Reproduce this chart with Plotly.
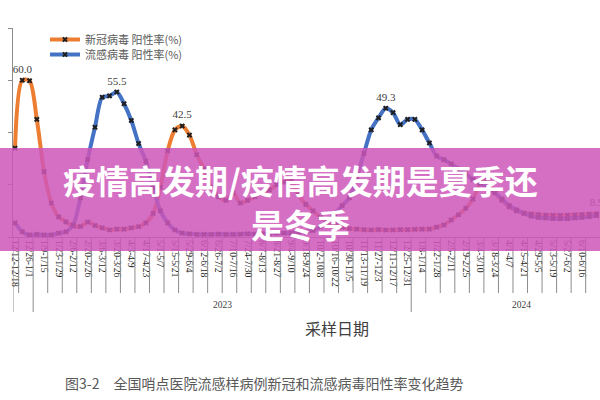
import plotly.graph_objects as go

# ---------------- data ----------------
tick_labels = ["12/12-12/18", "12/26-1/1", "1/9-1/15", "1/23-1/29", "2/6-2/12", "2/20-2/26",
               "3/6-3/12", "3/20-3/26", "4/3-4/9", "4/17-4/23", "5/1-5/7", "5/15-5/21",
               "5/29-6/4", "6/12-6/18", "6/26-7/2", "7/10-7/16", "7/24-7/30", "8/7-8/13",
               "8/21-8/27", "9/4-9/10", "9/18-9/24", "10/2-10/8", "10/16-10/22", "10/30-11/5",
               "11/13-11/19", "11/27-12/3", "12/11-12/17", "12/25-12/31", "1/8-1/14", "1/22-1/28",
               "2/5-2/11", "2/19-2/25", "3/4-3/10", "3/18-3/24", "4/1-4/7", "4/15-4/21",
               "4/29-5/5", "5/13-5/19", "5/27-6/2", "6/10-6/16", "6/24-6/30"]

covid = [34, 60.0, 59.8, 45, 25, 13, 7.7, 5.8, 4.2, 4.0,
         5.7, 4.4, 3.5, 2.7, 3.0, 3.0, 3.5, 4.0, 5.4, 9.0,
         19, 33, 41, 42.5, 39, 31.5, 26, 19, 15.4, 14,
         17, 13, 14, 15.4, 17, 18, 20, 21, 21.5, 16,
         12.5, 10, 7.5, 5.8, 4.5, 3.8, 3.2, 3.0, 2.8, 2.7,
         2.8, 2.7, 2.7, 2.8, 2.8, 2.9, 3.0, 3.0, 3.8, 4.6,
         6.5, 8.5, 11, 14.5, 20.5, 21.8, 17, 14, 11.5, 10,
         9.2, 8.8, 8.6, 8.4, 8.3, 8.3, 8.4, 8.5, 8.6, 8.8,
         8.9]

flu = [5.4, 2.0, 0.8, 1.0, 0.8, 0.8, 1.5, 2.0, 4.6, 15,
       29.6, 42, 53.5, 54, 55.5, 51, 44.6, 35.8, 29, 19,
       10, 5.4, 2.7, 1.5, 1.2, 1.0, 1.0, 1.0, 1.1, 1.0,
       1.0, 1.1, 1.2, 1.1, 1.2, 1.3, 1.5, 1.5, 1.6, 1.8,
       2.0, 2.5, 4.0, 6.0, 9.0, 12, 15, 23, 32, 41,
       45.6, 49.3, 47.6, 43, 45, 45, 41, 36, 31, 29.6,
       28, 26, 24, 22, 20.5, 19, 17, 14.5, 12, 10.4,
       9.0, 8.0, 7.5, 7.3, 7.0, 7.0, 7.0, 7.3, 7.5, 7.8,
       8.2]

covid_label_idx = [1, 23, 80]
flu_label_idx = [14, 51]

years = ["2023", "2024"]
year_bounds = [2.5, 54.5, 84.9]

series_names = ["新冠病毒 阳性率(%)", "流感病毒 阳性率(%)"]
x_title = "采样日期"
caption = "图3-2　全国哨点医院流感样病例新冠和流感病毒阳性率变化趋势"
banner_lines = ["疫情高发期/疫情高发期是夏季还", "是冬季"]

# ---------------- figure ----------------
ORANGE = "#ED7D31"
BLUE = "#4472C4"
AXIS = "#8c8c8c"
TEXT = "#404040"
SERIF = "Liberation Serif, Times New Roman, serif"
CJK = "Noto Sans CJK SC, sans-serif"

x = list(range(len(covid)))
fig = go.Figure()

legend_ids = ["legend", "legend2"]
for name, vals, color, lg in [(series_names[0], covid, ORANGE, legend_ids[0]),
                              (series_names[1], flu, BLUE, legend_ids[1])]:
    fig.add_trace(go.Scatter(
        x=x, y=vals, mode="lines+markers", name=name, legend=lg,
        line=dict(color=color, width=4, shape="spline", smoothing=0.8),
        marker=dict(symbol="x", size=5, color="#1f1f1f"),
        hoverinfo="skip"))

for vals, idx in [(covid, covid_label_idx), (flu, flu_label_idx)]:
    fig.add_trace(go.Scatter(
        x=idx, y=[vals[i] for i in idx], text=[f"{vals[i]:.1f}" for i in idx],
        mode="markers+text", textposition="top center",
        marker=dict(size=6, opacity=0),
        textfont=dict(family=SERIF, size=11, color=TEXT),
        showlegend=False, hoverinfo="skip"))

x0, x1 = -0.275, 80.47
tickvals = list(range(0, len(covid), 2))[:len(tick_labels)]

plot_h = 209.0
plot_w = 587.0
def py(pix_below_axis):
    return -pix_below_axis / plot_h

def px(pix):
    return (pix - 13) / plot_w

shapes = []
for k in range(len(tick_labels)):
    s = tickvals[k] + 0.5
    if s in year_bounds or s > x1:
        continue
    shapes.append(dict(type="line", xref="x", yref="paper", x0=s, x1=s,
                       y0=0, y1=py(56), line=dict(color=AXIS, width=1)))
for s in [x0] + year_bounds[:-1]:
    shapes.append(dict(type="line", xref="x", yref="paper", x0=s, x1=s,
                       y0=0, y1=py(75), line=dict(color=AXIS, width=1)))

shapes.append(dict(type="rect", xref="paper", yref="paper", layer="above",
                   x0=px(0), x1=1.0, y0=py(14), y1=(237 - 148) / plot_h,
                   fillcolor="rgba(206,86,186,0.85)", line=dict(width=0)))

def ann(xv, yv, text, font, xref="paper"):
    return dict(x=xv, y=yv, xref=xref, yref="paper", text=text, showarrow=False,
                xanchor="center", yanchor="middle", font=font)

annotations = []
for k, yr in enumerate(years):
    annotations.append(ann((year_bounds[k] + year_bounds[k + 1]) / 2, py(68), yr,
                           dict(family=SERIF, size=9.5, color=TEXT), xref="x"))
annotations.append(ann(px(337), py(91), x_title, dict(family=CJK, size=16, color=TEXT)))
annotations.append(ann(px(264), py(146), caption, dict(family=CJK, size=14, color="#595959")))
annotations.append(ann(px(300), (237 - 180) / plot_h, "<b>" + banner_lines[0] + "</b>",
                       dict(family=CJK, size=33, color="white")))
annotations.append(ann(px(300), (237 - 224) / plot_h, "<b>" + banner_lines[1] + "</b>",
                       dict(family=CJK, size=33, color="white")))

legend_font = dict(family=CJK, size=11, color="#595959")
fig.update_layout(
    width=600, height=400,
    margin=dict(l=13, r=0, t=28, b=163),
    paper_bgcolor="white", plot_bgcolor="white",
    showlegend=True,
    legend=dict(x=px(45), y=(237 - 25) / plot_h, xanchor="left", yanchor="top",
                bgcolor="rgba(0,0,0,0)", borderwidth=0, font=legend_font),
    legend2=dict(x=px(45), y=(237 - 40) / plot_h, xanchor="left", yanchor="top",
                 bgcolor="rgba(0,0,0,0)", borderwidth=0, font=legend_font),
    xaxis=dict(range=[x0, x1], showgrid=False, zeroline=False,
               showline=True, linecolor=AXIS, linewidth=1,
               tickmode="array", tickvals=tickvals, ticktext=tick_labels,
               ticks="", tickangle=90,
               tickfont=dict(family=SERIF, size=9.6, color="#2b2b2b")),
    yaxis=dict(range=[0, 80], showgrid=False, zeroline=False,
               showline=True, linecolor=AXIS, linewidth=1,
               tickmode="array", tickvals=[0, 20, 40, 60, 80],
               ticks="outside", ticklen=4, tickcolor=AXIS,
               showticklabels=False),
    shapes=shapes,
    annotations=annotations,
)

fig.write_html("out.html")
